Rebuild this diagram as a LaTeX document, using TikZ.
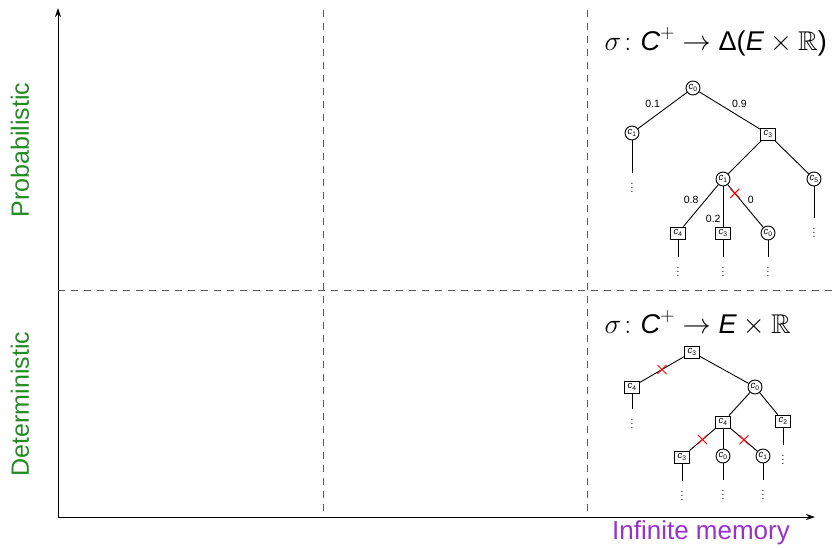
\documentclass[tikz,border=0pt]{standalone}
\usepackage{amsmath,amssymb}
\usepackage{fontspec}
\setmainfont{Liberation Sans}
\usepackage{tikz}
\usetikzlibrary{arrows.meta,positioning,shapes.misc}
\definecolor{detgreen}{RGB}{34,139,34}
\definecolor{mempurple}{RGB}{153,50,204}
\tikzstyle{axis}=[-{Stealth[length=9pt,width=6pt]},line width=1pt,draw=black]
\tikzstyle{divider}=[dash pattern=on 7pt off 6pt,line width=1pt,draw=black!65]
\tikzstyle{axislabel}=[font=\fontsize{25}{30}\selectfont,inner sep=0pt]
\tikzstyle{chance}=[circle,draw,fill=white,inner sep=0pt,minimum size=14pt,font=\fontsize{9.5}{10}\selectfont]
\tikzstyle{choice}=[rectangle,draw,fill=white,inner sep=0.5pt,minimum width=15pt,minimum height=12pt,font=\fontsize{9.5}{10}\selectfont]
\tikzstyle{prob}=[font=\fontsize{10.5}{12}\selectfont,inner sep=2pt]
\tikzstyle{cut}=[cross out,draw=red,line width=1pt,minimum size=8pt,inner sep=0pt]
\tikzstyle{more}=[font=\fontsize{10}{11}\selectfont,inner sep=0pt,below=4pt]
\tikzstyle{strategy}=[font=\fontsize{24}{28}\selectfont,scale=1.13,anchor=west,inner sep=0pt]
\newcommand{\cl}[1]{\textit{c}\textsubscript{#1}}

\begin{document}
\begin{tikzpicture}[x=1pt,y=-1pt,line width=0.9pt]
      \useasboundingbox (0,0) rectangle (836,547);

      % axes and grid
      \coordinate (o) at (58,517);
      \coordinate (ytop) at (58,8);
      \coordinate (xend) at (815,517);
      \draw[axis] (o)--(ytop);
      \draw[axis] (o)--(xend);
      \draw[divider] (323,10)--(323,517);
      \draw[divider] (587,10)--(587,517);
      \draw[divider] (58,290)--(836,290);

      \node[axislabel,text=detgreen,rotate=90] (prob) at (20,150) {Probabilistic};
      \node[axislabel,text=detgreen,rotate=90] (det) at (20,404) {Deterministic};
      \node[axislabel,text=mempurple,font=\fontsize{26}{30}\selectfont] (mem) at (701,533) {Infinite memory};

      % probabilistic strategy
      \node[strategy] (sprob) at (604,42) {$\sigma\colon \textit{C}^{+} \to \text{Δ(}\textit{E}\times\mathbb{R}\text{)}$};
      \node[chance] (p0) at (693,88) {\cl{0}};
      \node[chance] (p1) at (632,133) {\cl{1}};
      \node[choice] (p3) at (768,134) {\cl{3}};
      \node[chance] (p11) at (723,179) {\cl{1}};
      \node[chance] (p5) at (814,179) {\cl{5}};
      \node[choice] (p4) at (678,233) {\cl{4}};
      \node[choice] (p33) at (723,233) {\cl{3}};
      \node[chance] (p00) at (768,233) {\cl{0}};

      \draw (p0)--node[prob,above left] {0.1} (p1);
      \draw (p0)--node[prob,above right] {0.9} (p3);
      \draw (p3)--(p11);
      \draw (p3)--(p5);
      \draw (p11)--node[prob,above left] {0.8} (p4);
      \draw (p11)--node[prob,left,pos=0.8] {0.2} (p33);
      \draw (p11)--node[cut,pos=0.2] (px) {} node[prob,above right] {0} (p00);

      \draw (p1)--++(0,40) coordinate (p1e);
      \node[more] (p1d) at (p1e) {$\vdots$};
      \draw (p5)--++(0,39) coordinate (p5e);
      \node[more] (p5d) at (p5e) {$\vdots$};
      \foreach \n in {p4,p33,p00} {
        \draw (\n)--++(0,24) coordinate (\n e);
        \node[more] (\n d) at (\n e) {$\vdots$};
      }

      % deterministic strategy
      \node[strategy] (sdet) at (604,323) {$\sigma\colon \textit{C}^{+} \to \textit{E}\times\mathbb{R}$};
      \node[choice] (d3) at (692,352) {\cl{3}};
      \node[choice] (d4) at (632,387) {\cl{4}};
      \node[chance] (d0) at (755,387) {\cl{0}};
      \node[choice] (d44) at (723,422) {\cl{4}};
      \node[choice] (d2) at (783,421) {\cl{2}};
      \node[choice] (d33) at (682,457) {\cl{3}};
      \node[chance] (d00) at (723,456) {\cl{0}};
      \node[chance] (d1) at (763,456) {\cl{1}};

      \draw (d3)--node[cut] (dx1) {} (d4);
      \draw (d3)--(d0);
      \draw (d0)--(d44);
      \draw (d0)--(d2);
      \draw (d44)--node[cut] (dx2) {} (d33);
      \draw (d44)--(d00);
      \draw (d44)--node[cut] (dx3) {} (d1);

      \draw (d4)--++(0,22) coordinate (d4e);
      \node[more] (d4d) at (d4e) {$\vdots$};
      \draw (d2)--++(0,24) coordinate (d2e);
      \node[more] (d2d) at (d2e) {$\vdots$};
      \foreach \n in {d33,d00,d1} {
        \draw (\n)--++(0,24) coordinate (\n e);
        \node[more] (\n d) at (\n e) {$\vdots$};
      }
    \end{tikzpicture}
\end{document}
